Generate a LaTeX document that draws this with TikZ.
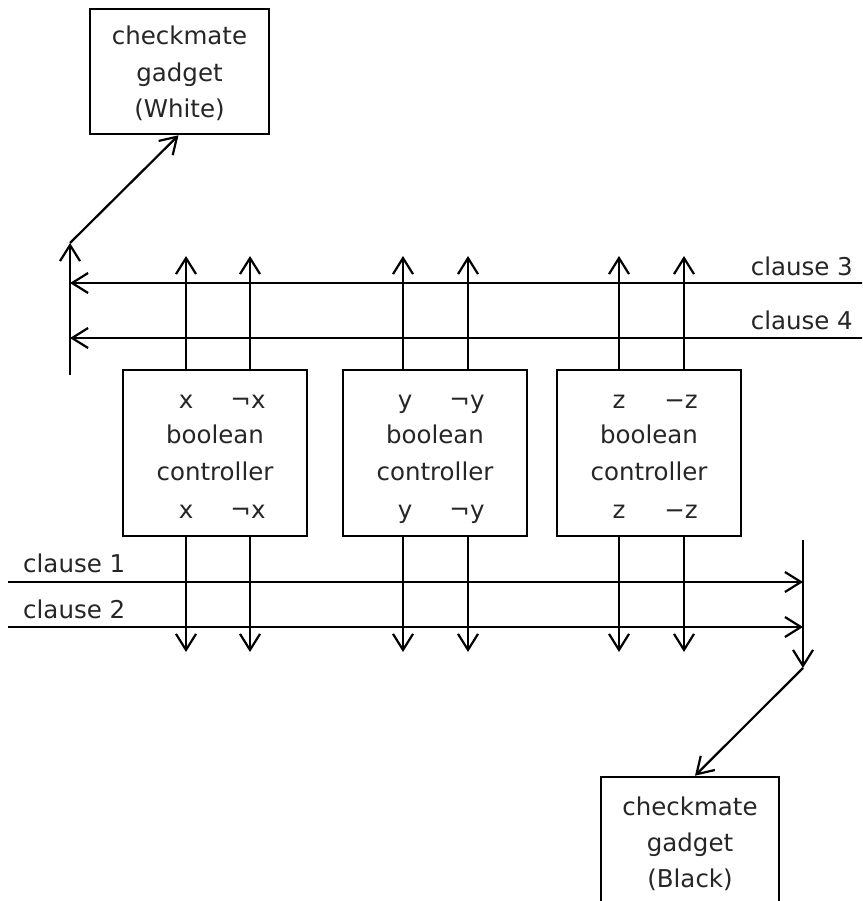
\documentclass[tikz,border=0pt]{standalone}
\usepackage{fontspec}
\setmainfont{DejaVu Sans}
\usetikzlibrary{arrows.meta}
\begin{document}
\begin{tikzpicture}[x=1pt,y=-1pt,
  box/.style={draw, line width=2.6pt, inner sep=0pt},
  txt/.style={anchor=base, inner sep=0pt, text=black!85, font=\fontsize{24.5}{36}\selectfont},
  wire/.style={line width=2.2pt},
  arr/.style={wire, -{Straight Barb[length=16pt,width=20pt,line width=2.2pt]}},
  ]
\clip (0,0) rectangle (862,901);
\fill[white] (0,0) rectangle (862,901);

% checkmate gadgets
\node[box, minimum width=179pt, minimum height=125pt] (wb) at (179.5,71.5) {};
\node[txt] (wb1) at (179.5,45) {checkmate};
\node[txt] (wb2) at (179.5,81.5) {gadget};
\node[txt] (wb3) at (179.5,118) {(White)};

\node[box, minimum width=178pt, minimum height=140pt] (bb) at (690,847) {};
\node[txt] (bb1) at (690,815) {checkmate};
\node[txt] (bb2) at (690,851) {gadget};
\node[txt] (bb3) at (690,887) {(Black)};

% boolean controllers
\node[box, minimum width=184pt, minimum height=166pt] (bx) at (215,453) {};
\node[box, minimum width=184pt, minimum height=166pt] (by) at (435,453) {};
\node[box, minimum width=184pt, minimum height=166pt] (bz) at (649,453) {};

\node[txt] (xa) at (186,408) {x};
\node[txt] (xb) at (248,408) {¬x};
\node[txt] (xc) at (215,443) {boolean};
\node[txt] (xd) at (215,480) {controller};
\node[txt] (xe) at (186,518) {x};
\node[txt] (xf) at (248,518) {¬x};

\node[txt] (ya) at (405,408) {y};
\node[txt] (yb) at (467,408) {¬y};
\node[txt] (yc) at (435,443) {boolean};
\node[txt] (yd) at (435,480) {controller};
\node[txt] (ye) at (405,518) {y};
\node[txt] (yf) at (467,518) {¬y};

\node[txt] (za) at (619,408) {z};
\node[txt] (zb) at (681,408) {−z};
\node[txt] (zc) at (649,443) {boolean};
\node[txt] (zd) at (649,480) {controller};
\node[txt] (ze) at (619,518) {z};
\node[txt] (zf) at (681,518) {−z};

% clause labels
\node[txt, anchor=base east] (c3) at (853,275) {clause 3};
\node[txt, anchor=base east] (c4) at (853,329) {clause 4};
\node[txt, anchor=base west] (c1) at (23,572) {clause 1};
\node[txt, anchor=base west] (c2) at (23,618) {clause 2};

% free ends
\coordinate (wtail) at (70,243);
\coordinate (wbot) at (70,375);
\coordinate (btail) at (803,668);
\coordinate (btop) at (803,540);
\coordinate (c3r) at (865,283);
\coordinate (c4r) at (865,338);
\coordinate (c1l) at (8,582);
\coordinate (c2l) at (8,627);

% outputs up and down
\foreach \b/\xa/\xb in {bx/186/250, by/403/468, bz/619/684}{
  \coordinate (\b u1) at (\xa,256);
  \coordinate (\b u2) at (\xb,256);
  \coordinate (\b d1) at (\xa,652);
  \coordinate (\b d2) at (\xb,652);
  \draw[arr] (\b.north -| \b u1) -- (\b u1);
  \draw[arr] (\b.north -| \b u2) -- (\b u2);
  \draw[arr] (\b.south -| \b d1) -- (\b d1);
  \draw[arr] (\b.south -| \b d2) -- (\b d2);
}

% clause wires
\draw[arr] (c3r) -- (c3r -| wtail);
\draw[arr] (c4r) -- (c4r -| wtail);
\draw[arr] (c1l) -- (c1l -| btail);
\draw[arr] (c2l) -- (c2l -| btail);

% collectors
\draw[arr] (wbot) -- (wtail);
\draw[arr] (wtail) -- ([xshift=-1pt]wb.south);
\draw[arr] (btop) -- (btail);
\draw[arr] (btail) -- ([xshift=5pt]bb.north);
\end{tikzpicture}
\end{document}
